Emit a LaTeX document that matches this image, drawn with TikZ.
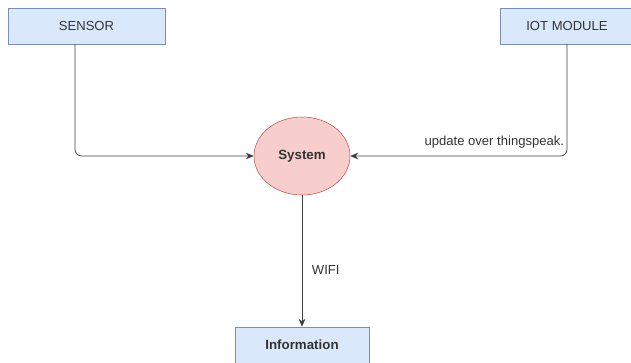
\documentclass[tikz,border=0pt]{standalone}
\usepackage{fontspec}
\setmainfont{Liberation Sans}
\usetikzlibrary{arrows.meta,shapes.geometric}
\definecolor{boxfill}{HTML}{DAE8FC}
\definecolor{boxline}{HTML}{7A8FAF}
\definecolor{sysfill}{HTML}{F8CECC}
\definecolor{sysline}{HTML}{B85450}
\definecolor{txt}{HTML}{333333}
\begin{document}
\begin{tikzpicture}[x=0.75pt,y=-0.75pt,line cap=round,
  font=\fontsize{9.8}{12}\selectfont,
  block/.style={draw=boxline,fill=boxfill,minimum width=157*0.75pt,minimum height=36*0.75pt,inner sep=0pt,text=txt},
  flow/.style={-{Stealth[length=6pt,width=5pt]},draw=black!75,semithick}]
  \useasboundingbox (0,0) rectangle (631,362);
  \node[block] (sensor) at (86.5,26) {SENSOR};
  \node[block,minimum width=134*0.75pt] (iot) at (567,26) {IOT MODULE};
  \node[draw=sysline,fill=sysfill,ellipse,minimum width=96*0.75pt,minimum height=78*0.75pt,
    inner sep=0pt,text=txt,font=\fontsize{10}{12}\selectfont\bfseries] (system) at (302,156) {System};
  \node[block,minimum width=134*0.75pt,font=\fontsize{10}{12}\selectfont\bfseries] (info) at (302,345) {Information};
  \draw[flow,rounded corners=5pt] ([xshift=-11.5*0.75pt]sensor.south) |- (system.west);
  \draw[flow,rounded corners=5pt] (iot.south) |- (system.east);
  \node[text=txt,anchor=south east,inner sep=2pt] at (567,151) {update over thingspeak.};
  \draw[flow] (system.south) -- (info.north);
  \node[text=txt,anchor=west,inner sep=2pt] at (309,270) {WIFI};
\end{tikzpicture}
\end{document}
